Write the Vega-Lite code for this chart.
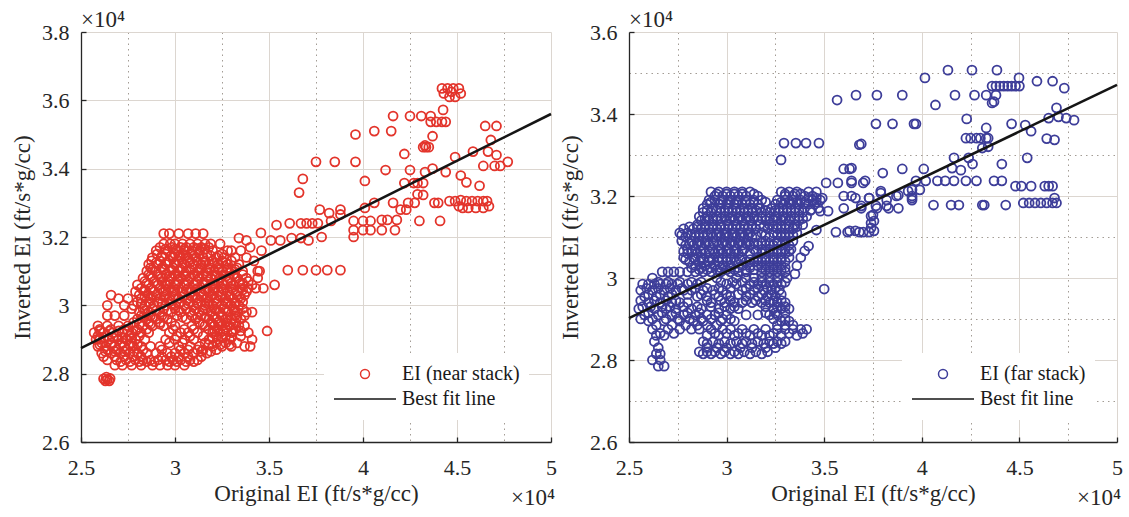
{
"$schema": "https://vega.github.io/schema/vega-lite/v6.json",
"background": "white",
"padding": {"left": 11, "top": 9, "right": 6, "bottom": 4},
"autosize": {"type": "pad"},
"bounds": "flush",
"spacing": 78,
"datasets": {
"near": [
{"original":2.62,"inverted":2.785},{"original":2.63,"inverted":2.779},{"original":2.64,"inverted":2.783},{"original":2.65,"inverted":2.779},{"original":2.635,"inverted":2.79},{"original":2.655,"inverted":2.786},
{"original":2.94,"inverted":3.21},{"original":2.97,"inverted":3.21},{"original":3.02,"inverted":3.21},{"original":3.07,"inverted":3.21},{"original":3.11,"inverted":3.21},{"original":3.15,"inverted":3.21},
{"original":2.94,"inverted":3.18},{"original":2.975,"inverted":3.18},{"original":3.0,"inverted":3.18},{"original":3.04,"inverted":3.18},{"original":3.08,"inverted":3.18},{"original":3.12,"inverted":3.18},{"original":3.16,"inverted":3.18},{"original":3.19,"inverted":3.18},{"original":3.24,"inverted":3.18},
{"original":2.9,"inverted":3.16},{"original":2.96,"inverted":3.16},{"original":3.01,"inverted":3.16},{"original":3.05,"inverted":3.16},{"original":3.09,"inverted":3.16},{"original":3.13,"inverted":3.16},{"original":3.2,"inverted":3.16},{"original":3.28,"inverted":3.16},{"original":3.3,"inverted":3.16},{"original":3.35,"inverted":3.16},
{"original":2.88,"inverted":3.14},{"original":2.93,"inverted":3.14},{"original":2.99,"inverted":3.14},{"original":3.03,"inverted":3.14},{"original":3.07,"inverted":3.14},{"original":3.11,"inverted":3.14},{"original":3.15,"inverted":3.14},{"original":3.22,"inverted":3.14},{"original":3.26,"inverted":3.14},{"original":3.32,"inverted":3.14},{"original":3.38,"inverted":3.14},
{"original":2.86,"inverted":3.12},{"original":2.91,"inverted":3.12},{"original":2.95,"inverted":3.12},{"original":3.0,"inverted":3.12},{"original":3.05,"inverted":3.12},{"original":3.1,"inverted":3.12},{"original":3.14,"inverted":3.12},{"original":3.18,"inverted":3.12},{"original":3.23,"inverted":3.12},{"original":3.28,"inverted":3.12},{"original":3.34,"inverted":3.12},
{"original":2.85,"inverted":3.1},{"original":2.9,"inverted":3.1},{"original":2.97,"inverted":3.1},{"original":3.02,"inverted":3.1},{"original":3.06,"inverted":3.1},{"original":3.12,"inverted":3.1},{"original":3.17,"inverted":3.1},{"original":3.21,"inverted":3.1},{"original":3.25,"inverted":3.1},{"original":3.3,"inverted":3.1},{"original":3.36,"inverted":3.1},{"original":3.44,"inverted":3.1},
{"original":2.83,"inverted":3.08},{"original":2.88,"inverted":3.08},{"original":2.93,"inverted":3.08},{"original":2.98,"inverted":3.08},{"original":3.03,"inverted":3.08},{"original":3.08,"inverted":3.08},{"original":3.13,"inverted":3.08},{"original":3.19,"inverted":3.08},{"original":3.24,"inverted":3.08},{"original":3.29,"inverted":3.08},{"original":3.33,"inverted":3.08},{"original":3.38,"inverted":3.08},
{"original":2.8,"inverted":3.06},{"original":2.86,"inverted":3.06},{"original":2.91,"inverted":3.06},{"original":2.95,"inverted":3.06},{"original":3.0,"inverted":3.06},{"original":3.05,"inverted":3.06},{"original":3.1,"inverted":3.06},{"original":3.15,"inverted":3.06},{"original":3.2,"inverted":3.06},{"original":3.26,"inverted":3.06},{"original":3.31,"inverted":3.06},{"original":3.36,"inverted":3.06},{"original":3.41,"inverted":3.06},
{"original":2.79,"inverted":3.04},{"original":2.84,"inverted":3.04},{"original":2.89,"inverted":3.04},{"original":2.94,"inverted":3.04},{"original":2.99,"inverted":3.04},{"original":3.04,"inverted":3.04},{"original":3.09,"inverted":3.04},{"original":3.14,"inverted":3.04},{"original":3.18,"inverted":3.04},{"original":3.23,"inverted":3.04},{"original":3.28,"inverted":3.04},{"original":3.33,"inverted":3.04},{"original":3.38,"inverted":3.04},
{"original":2.82,"inverted":3.02},{"original":2.87,"inverted":3.02},{"original":2.92,"inverted":3.02},{"original":2.97,"inverted":3.02},{"original":3.02,"inverted":3.02},{"original":3.07,"inverted":3.02},{"original":3.12,"inverted":3.02},{"original":3.17,"inverted":3.02},{"original":3.22,"inverted":3.02},{"original":3.27,"inverted":3.02},{"original":3.31,"inverted":3.02},{"original":3.35,"inverted":3.02},
{"original":2.78,"inverted":3.0},{"original":2.84,"inverted":3.0},{"original":2.89,"inverted":3.0},{"original":2.95,"inverted":3.0},{"original":3.0,"inverted":3.0},{"original":3.05,"inverted":3.0},{"original":3.1,"inverted":3.0},{"original":3.16,"inverted":3.0},{"original":3.2,"inverted":3.0},{"original":3.25,"inverted":3.0},{"original":3.3,"inverted":3.0},{"original":3.34,"inverted":3.0},
{"original":2.81,"inverted":2.98},{"original":2.86,"inverted":2.98},{"original":2.92,"inverted":2.98},{"original":2.98,"inverted":2.98},{"original":3.03,"inverted":2.98},{"original":3.08,"inverted":2.98},{"original":3.13,"inverted":2.98},{"original":3.19,"inverted":2.98},{"original":3.24,"inverted":2.98},{"original":3.28,"inverted":2.98},{"original":3.33,"inverted":2.98},{"original":3.38,"inverted":2.98},{"original":3.41,"inverted":2.98},
{"original":2.8,"inverted":2.96},{"original":2.85,"inverted":2.96},{"original":2.9,"inverted":2.96},{"original":2.96,"inverted":2.96},{"original":3.06,"inverted":2.96},{"original":3.11,"inverted":2.96},{"original":3.18,"inverted":2.96},{"original":3.22,"inverted":2.96},{"original":3.27,"inverted":2.96},{"original":3.3,"inverted":2.96},{"original":3.35,"inverted":2.96},
{"original":2.59,"inverted":2.94},{"original":2.64,"inverted":2.94},{"original":2.7,"inverted":2.94},{"original":2.75,"inverted":2.94},{"original":2.83,"inverted":2.94},{"original":2.88,"inverted":2.94},{"original":2.94,"inverted":2.94},{"original":3.0,"inverted":2.94},{"original":3.09,"inverted":2.94},{"original":3.16,"inverted":2.94},{"original":3.21,"inverted":2.94},{"original":3.25,"inverted":2.94},{"original":3.29,"inverted":2.94},{"original":3.34,"inverted":2.94},{"original":3.37,"inverted":2.94},
{"original":2.57,"inverted":2.92},{"original":2.62,"inverted":2.92},{"original":2.67,"inverted":2.92},{"original":2.72,"inverted":2.92},{"original":2.77,"inverted":2.92},{"original":2.82,"inverted":2.92},{"original":2.86,"inverted":2.92},{"original":2.97,"inverted":2.92},{"original":3.03,"inverted":2.92},{"original":3.07,"inverted":2.92},{"original":3.12,"inverted":2.92},{"original":3.2,"inverted":2.92},{"original":3.24,"inverted":2.92},{"original":3.3,"inverted":2.92},{"original":3.39,"inverted":2.92},
{"original":2.58,"inverted":2.9},{"original":2.6,"inverted":2.9},{"original":2.65,"inverted":2.9},{"original":2.7,"inverted":2.9},{"original":2.74,"inverted":2.9},{"original":2.79,"inverted":2.9},{"original":2.84,"inverted":2.9},{"original":2.95,"inverted":2.9},{"original":3.0,"inverted":2.9},{"original":3.05,"inverted":2.9},{"original":3.1,"inverted":2.9},{"original":3.18,"inverted":2.9},{"original":3.23,"inverted":2.9},{"original":3.29,"inverted":2.9},{"original":3.41,"inverted":2.9},
{"original":2.59,"inverted":2.88},{"original":2.63,"inverted":2.88},{"original":2.68,"inverted":2.88},{"original":2.73,"inverted":2.88},{"original":2.78,"inverted":2.88},{"original":2.82,"inverted":2.88},{"original":2.87,"inverted":2.88},{"original":2.92,"inverted":2.88},{"original":3.02,"inverted":2.88},{"original":3.08,"inverted":2.88},{"original":3.13,"inverted":2.88},{"original":3.2,"inverted":2.88},{"original":3.25,"inverted":2.88},{"original":3.3,"inverted":2.88},{"original":3.37,"inverted":2.88},{"original":3.4,"inverted":2.88},
{"original":2.61,"inverted":2.86},{"original":2.66,"inverted":2.86},{"original":2.71,"inverted":2.86},{"original":2.76,"inverted":2.86},{"original":2.8,"inverted":2.86},{"original":2.85,"inverted":2.86},{"original":2.9,"inverted":2.86},{"original":2.96,"inverted":2.86},{"original":3.0,"inverted":2.86},{"original":3.05,"inverted":2.86},{"original":3.1,"inverted":2.86},{"original":3.17,"inverted":2.86},
{"original":2.64,"inverted":2.84},{"original":2.69,"inverted":2.84},{"original":2.74,"inverted":2.84},{"original":2.79,"inverted":2.84},{"original":2.83,"inverted":2.84},{"original":2.87,"inverted":2.84},{"original":2.91,"inverted":2.84},{"original":2.95,"inverted":2.84},{"original":2.99,"inverted":2.84},{"original":3.03,"inverted":2.84},{"original":3.08,"inverted":2.84},{"original":3.12,"inverted":2.84},
{"original":2.68,"inverted":2.825},{"original":2.72,"inverted":2.825},{"original":2.77,"inverted":2.825},{"original":2.82,"inverted":2.825},{"original":2.88,"inverted":2.825},{"original":2.92,"inverted":2.825},{"original":2.96,"inverted":2.825},{"original":3.0,"inverted":2.825},{"original":3.05,"inverted":2.825},
{"original":2.92,"inverted":3.17},{"original":2.985,"inverted":3.17},{"original":3.03,"inverted":3.17},{"original":3.06,"inverted":3.17},{"original":3.1,"inverted":3.17},{"original":3.14,"inverted":3.17},{"original":3.18,"inverted":3.17},
{"original":2.905,"inverted":3.15},{"original":2.95,"inverted":3.15},{"original":3.0,"inverted":3.15},{"original":3.045,"inverted":3.15},{"original":3.09,"inverted":3.15},{"original":3.13,"inverted":3.15},{"original":3.17,"inverted":3.15},{"original":3.25,"inverted":3.15},
{"original":2.875,"inverted":3.13},{"original":2.92,"inverted":3.13},{"original":2.97,"inverted":3.13},{"original":3.02,"inverted":3.13},{"original":3.07,"inverted":3.13},{"original":3.12,"inverted":3.13},{"original":3.16,"inverted":3.13},{"original":3.2,"inverted":3.13},{"original":3.25,"inverted":3.13},{"original":3.3,"inverted":3.13},
{"original":2.87,"inverted":3.11},{"original":2.93,"inverted":3.11},{"original":2.99,"inverted":3.11},{"original":3.04,"inverted":3.11},{"original":3.09,"inverted":3.11},{"original":3.14,"inverted":3.11},{"original":3.19,"inverted":3.11},{"original":3.23,"inverted":3.11},{"original":3.28,"inverted":3.11},{"original":3.33,"inverted":3.11},
{"original":2.86,"inverted":3.09},{"original":2.91,"inverted":3.09},{"original":2.95,"inverted":3.09},{"original":3.0,"inverted":3.09},{"original":3.05,"inverted":3.09},{"original":3.1,"inverted":3.09},{"original":3.15,"inverted":3.09},{"original":3.21,"inverted":3.09},{"original":3.26,"inverted":3.09},{"original":3.31,"inverted":3.09},{"original":3.36,"inverted":3.09},
{"original":2.84,"inverted":3.07},{"original":2.89,"inverted":3.07},{"original":2.93,"inverted":3.07},{"original":2.97,"inverted":3.07},{"original":3.02,"inverted":3.07},{"original":3.07,"inverted":3.07},{"original":3.12,"inverted":3.07},{"original":3.17,"inverted":3.07},{"original":3.23,"inverted":3.07},{"original":3.28,"inverted":3.07},{"original":3.34,"inverted":3.07},{"original":3.39,"inverted":3.07},
{"original":2.82,"inverted":3.05},{"original":2.87,"inverted":3.05},{"original":2.92,"inverted":3.05},{"original":2.97,"inverted":3.05},{"original":3.02,"inverted":3.05},{"original":3.07,"inverted":3.05},{"original":3.12,"inverted":3.05},{"original":3.17,"inverted":3.05},{"original":3.21,"inverted":3.05},{"original":3.25,"inverted":3.05},{"original":3.3,"inverted":3.05},{"original":3.35,"inverted":3.05},{"original":3.39,"inverted":3.05},
{"original":2.81,"inverted":3.03},{"original":2.86,"inverted":3.03},{"original":2.9,"inverted":3.03},{"original":2.95,"inverted":3.03},{"original":3.0,"inverted":3.03},{"original":3.05,"inverted":3.03},{"original":3.1,"inverted":3.03},{"original":3.15,"inverted":3.03},{"original":3.2,"inverted":3.03},{"original":3.25,"inverted":3.03},{"original":3.29,"inverted":3.03},{"original":3.33,"inverted":3.03},{"original":3.37,"inverted":3.03},
{"original":2.8,"inverted":3.01},{"original":2.86,"inverted":3.01},{"original":2.91,"inverted":3.01},{"original":2.97,"inverted":3.01},{"original":3.03,"inverted":3.01},{"original":3.08,"inverted":3.01},{"original":3.14,"inverted":3.01},{"original":3.18,"inverted":3.01},{"original":3.22,"inverted":3.01},{"original":3.27,"inverted":3.01},{"original":3.32,"inverted":3.01},{"original":3.36,"inverted":3.01},
{"original":2.83,"inverted":2.99},{"original":2.88,"inverted":2.99},{"original":2.94,"inverted":2.99},{"original":3.0,"inverted":2.99},{"original":3.06,"inverted":2.99},{"original":3.11,"inverted":2.99},{"original":3.16,"inverted":2.99},{"original":3.21,"inverted":2.99},{"original":3.26,"inverted":2.99},{"original":3.31,"inverted":2.99},{"original":3.36,"inverted":2.99},
{"original":2.82,"inverted":2.97},{"original":2.87,"inverted":2.97},{"original":2.93,"inverted":2.97},{"original":3.01,"inverted":2.97},{"original":3.09,"inverted":2.97},{"original":3.14,"inverted":2.97},{"original":3.2,"inverted":2.97},{"original":3.25,"inverted":2.97},{"original":3.32,"inverted":2.97},{"original":3.37,"inverted":2.97},
{"original":2.78,"inverted":2.95},{"original":2.86,"inverted":2.95},{"original":2.92,"inverted":2.95},{"original":2.98,"inverted":2.95},{"original":3.13,"inverted":2.95},{"original":3.19,"inverted":2.95},{"original":3.23,"inverted":2.95},{"original":3.27,"inverted":2.95},{"original":3.32,"inverted":2.95},
{"original":2.6,"inverted":2.93},{"original":2.66,"inverted":2.93},{"original":2.73,"inverted":2.93},{"original":2.8,"inverted":2.93},{"original":2.85,"inverted":2.93},{"original":2.99,"inverted":2.93},{"original":3.05,"inverted":2.93},{"original":3.1,"inverted":2.93},{"original":3.18,"inverted":2.93},{"original":3.23,"inverted":2.93},{"original":3.27,"inverted":2.93},{"original":3.32,"inverted":2.93},
{"original":2.59,"inverted":2.91},{"original":2.64,"inverted":2.91},{"original":2.69,"inverted":2.91},{"original":2.76,"inverted":2.91},{"original":2.81,"inverted":2.91},{"original":3.01,"inverted":2.91},{"original":3.08,"inverted":2.91},{"original":3.15,"inverted":2.91},{"original":3.22,"inverted":2.91},{"original":3.27,"inverted":2.91},{"original":3.35,"inverted":2.91},
{"original":2.61,"inverted":2.89},{"original":2.66,"inverted":2.89},{"original":2.72,"inverted":2.89},{"original":2.77,"inverted":2.89},{"original":2.97,"inverted":2.89},{"original":3.04,"inverted":2.89},{"original":3.16,"inverted":2.89},{"original":3.22,"inverted":2.89},{"original":3.27,"inverted":2.89},{"original":3.33,"inverted":2.89},
{"original":2.64,"inverted":2.87},{"original":2.69,"inverted":2.87},{"original":2.74,"inverted":2.87},{"original":2.83,"inverted":2.87},{"original":2.93,"inverted":2.87},{"original":3.03,"inverted":2.87},{"original":3.07,"inverted":2.87},{"original":3.12,"inverted":2.87},{"original":3.15,"inverted":2.87},{"original":3.22,"inverted":2.87},
{"original":2.62,"inverted":2.85},{"original":2.68,"inverted":2.85},{"original":2.73,"inverted":2.85},{"original":2.78,"inverted":2.85},{"original":2.82,"inverted":2.85},{"original":2.93,"inverted":2.85},{"original":2.98,"inverted":2.85},{"original":3.02,"inverted":2.85},{"original":3.07,"inverted":2.85},{"original":3.14,"inverted":2.85},
{"original":2.71,"inverted":2.835},{"original":2.76,"inverted":2.835},{"original":2.81,"inverted":2.835},{"original":2.85,"inverted":2.835},{"original":2.89,"inverted":2.835},{"original":2.97,"inverted":2.835},{"original":3.01,"inverted":2.835},{"original":3.06,"inverted":2.835},{"original":3.1,"inverted":2.835},
{"original":2.95,"inverted":3.165},{"original":3.0,"inverted":3.165},{"original":3.05,"inverted":3.165},{"original":3.12,"inverted":3.165},{"original":3.16,"inverted":3.165},
{"original":2.93,"inverted":3.145},{"original":2.98,"inverted":3.145},{"original":3.02,"inverted":3.145},{"original":3.06,"inverted":3.145},{"original":3.1,"inverted":3.145},{"original":3.19,"inverted":3.145},{"original":3.23,"inverted":3.145},
{"original":2.9,"inverted":3.125},{"original":2.96,"inverted":3.125},{"original":3.0,"inverted":3.125},{"original":3.04,"inverted":3.125},{"original":3.08,"inverted":3.125},{"original":3.15,"inverted":3.125},{"original":3.21,"inverted":3.125},{"original":3.27,"inverted":3.125},
{"original":2.88,"inverted":3.105},{"original":2.94,"inverted":3.105},{"original":2.98,"inverted":3.105},{"original":3.03,"inverted":3.105},{"original":3.08,"inverted":3.105},{"original":3.13,"inverted":3.105},{"original":3.18,"inverted":3.105},{"original":3.23,"inverted":3.105},{"original":3.28,"inverted":3.105},{"original":3.32,"inverted":3.105},
{"original":2.87,"inverted":3.085},{"original":2.92,"inverted":3.085},{"original":2.97,"inverted":3.085},{"original":3.02,"inverted":3.085},{"original":3.06,"inverted":3.085},{"original":3.12,"inverted":3.085},{"original":3.17,"inverted":3.085},{"original":3.22,"inverted":3.085},{"original":3.27,"inverted":3.085},{"original":3.32,"inverted":3.085},
{"original":2.85,"inverted":3.065},{"original":2.9,"inverted":3.065},{"original":2.96,"inverted":3.065},{"original":3.01,"inverted":3.065},{"original":3.06,"inverted":3.065},{"original":3.11,"inverted":3.065},{"original":3.16,"inverted":3.065},{"original":3.21,"inverted":3.065},{"original":3.25,"inverted":3.065},{"original":3.3,"inverted":3.065},{"original":3.36,"inverted":3.065},
{"original":2.84,"inverted":3.045},{"original":2.88,"inverted":3.045},{"original":2.95,"inverted":3.045},{"original":3.0,"inverted":3.045},{"original":3.06,"inverted":3.045},{"original":3.11,"inverted":3.045},{"original":3.16,"inverted":3.045},{"original":3.2,"inverted":3.045},{"original":3.26,"inverted":3.045},{"original":3.31,"inverted":3.045},{"original":3.36,"inverted":3.045},
{"original":2.84,"inverted":3.025},{"original":2.88,"inverted":3.025},{"original":2.94,"inverted":3.025},{"original":2.99,"inverted":3.025},{"original":3.04,"inverted":3.025},{"original":3.09,"inverted":3.025},{"original":3.14,"inverted":3.025},{"original":3.19,"inverted":3.025},{"original":3.24,"inverted":3.025},{"original":3.29,"inverted":3.025},{"original":3.34,"inverted":3.025},
{"original":2.82,"inverted":3.005},{"original":2.87,"inverted":3.005},{"original":2.93,"inverted":3.005},{"original":2.98,"inverted":3.005},{"original":3.02,"inverted":3.005},{"original":3.07,"inverted":3.005},{"original":3.12,"inverted":3.005},{"original":3.17,"inverted":3.005},{"original":3.22,"inverted":3.005},{"original":3.28,"inverted":3.005},{"original":3.32,"inverted":3.005},
{"original":2.84,"inverted":2.985},{"original":2.9,"inverted":2.985},{"original":2.96,"inverted":2.985},{"original":3.02,"inverted":2.985},{"original":3.1,"inverted":2.985},{"original":3.15,"inverted":2.985},{"original":3.22,"inverted":2.985},{"original":3.27,"inverted":2.985},{"original":3.32,"inverted":2.985},
{"original":2.83,"inverted":2.965},{"original":2.88,"inverted":2.965},{"original":2.94,"inverted":2.965},{"original":3.04,"inverted":2.965},{"original":3.12,"inverted":2.965},{"original":3.16,"inverted":2.965},{"original":3.21,"inverted":2.965},{"original":3.28,"inverted":2.965},{"original":3.33,"inverted":2.965},
{"original":2.81,"inverted":2.945},{"original":2.87,"inverted":2.945},{"original":2.92,"inverted":2.945},{"original":3.15,"inverted":2.945},{"original":3.2,"inverted":2.945},{"original":3.24,"inverted":2.945},{"original":3.28,"inverted":2.945},{"original":3.31,"inverted":2.945},
{"original":2.6,"inverted":2.925},{"original":2.65,"inverted":2.925},{"original":2.7,"inverted":2.925},{"original":2.75,"inverted":2.925},{"original":2.79,"inverted":2.925},{"original":3.21,"inverted":2.925},{"original":3.26,"inverted":2.925},{"original":3.31,"inverted":2.925},{"original":3.35,"inverted":2.925},
{"original":2.62,"inverted":2.905},{"original":2.67,"inverted":2.905},{"original":2.72,"inverted":2.905},{"original":2.77,"inverted":2.905},{"original":3.2,"inverted":2.905},{"original":3.25,"inverted":2.905},{"original":3.3,"inverted":2.905},
{"original":2.6,"inverted":2.885},{"original":2.66,"inverted":2.885},{"original":2.71,"inverted":2.885},{"original":2.76,"inverted":2.885},{"original":2.8,"inverted":2.885},{"original":3.18,"inverted":2.885},{"original":3.24,"inverted":2.885},{"original":3.29,"inverted":2.885},
{"original":2.63,"inverted":2.865},{"original":2.68,"inverted":2.865},{"original":2.73,"inverted":2.865},{"original":2.78,"inverted":2.865},{"original":3.14,"inverted":2.865},{"original":3.19,"inverted":2.865},
{"original":2.66,"inverted":3.03},{"original":2.7,"inverted":3.02},{"original":2.75,"inverted":3.02},{"original":2.64,"inverted":3.0},{"original":2.73,"inverted":3.0},{"original":2.64,"inverted":2.97},{"original":2.68,"inverted":2.97},{"original":2.73,"inverted":2.97},{"original":2.77,"inverted":2.99},
{"original":3.43,"inverted":3.05},{"original":3.47,"inverted":3.05},{"original":3.53,"inverted":3.06},{"original":3.49,"inverted":2.925},{"original":3.42,"inverted":3.13},{"original":3.45,"inverted":3.1},{"original":3.44,"inverted":3.08},{"original":3.4,"inverted":3.17},{"original":3.38,"inverted":3.19},{"original":3.46,"inverted":3.16},{"original":3.34,"inverted":3.197},{"original":3.457,"inverted":3.212},
{"original":3.51,"inverted":3.19},{"original":3.56,"inverted":3.19},{"original":3.62,"inverted":3.197},{"original":3.67,"inverted":3.197},{"original":3.54,"inverted":3.235},{"original":3.61,"inverted":3.24},{"original":3.67,"inverted":3.24},{"original":3.7,"inverted":3.24},{"original":3.73,"inverted":3.24},{"original":3.76,"inverted":3.24},
{"original":3.6,"inverted":3.103},{"original":3.68,"inverted":3.103},{"original":3.75,"inverted":3.103},{"original":3.81,"inverted":3.103},{"original":3.88,"inverted":3.103},
{"original":4.42,"inverted":3.635},{"original":4.45,"inverted":3.635},{"original":4.48,"inverted":3.635},{"original":4.51,"inverted":3.635},{"original":4.43,"inverted":3.62},{"original":4.46,"inverted":3.61},{"original":4.49,"inverted":3.61},{"original":4.52,"inverted":3.62},{"original":4.47,"inverted":3.625},
{"original":4.426,"inverted":3.572},{"original":4.16,"inverted":3.554},{"original":4.25,"inverted":3.554},{"original":4.31,"inverted":3.554},{"original":4.36,"inverted":3.554},
{"original":4.36,"inverted":3.537},{"original":4.39,"inverted":3.537},{"original":4.42,"inverted":3.537},{"original":4.44,"inverted":3.537},
{"original":3.96,"inverted":3.5},{"original":4.06,"inverted":3.51},{"original":4.15,"inverted":3.51},{"original":4.65,"inverted":3.525},{"original":4.71,"inverted":3.525},{"original":4.37,"inverted":3.495},
{"original":4.32,"inverted":3.463},{"original":4.335,"inverted":3.463},{"original":4.35,"inverted":3.463},{"original":4.33,"inverted":3.468},{"original":4.68,"inverted":3.484},{"original":4.22,"inverted":3.443},{"original":4.49,"inverted":3.434},
{"original":4.585,"inverted":3.45},{"original":4.665,"inverted":3.45},{"original":4.71,"inverted":3.44},
{"original":3.75,"inverted":3.42},{"original":3.85,"inverted":3.42},{"original":3.96,"inverted":3.42},
{"original":4.12,"inverted":3.396},{"original":4.25,"inverted":3.396},{"original":4.33,"inverted":3.39},{"original":4.37,"inverted":3.4},{"original":4.44,"inverted":3.39},
{"original":4.64,"inverted":3.408},{"original":4.7,"inverted":3.408},{"original":4.73,"inverted":3.408},{"original":4.77,"inverted":3.42},
{"original":4.52,"inverted":3.38},{"original":4.55,"inverted":3.36},{"original":4.62,"inverted":3.35},{"original":3.68,"inverted":3.37},{"original":4.01,"inverted":3.364},
{"original":4.22,"inverted":3.358},{"original":4.27,"inverted":3.358},{"original":4.29,"inverted":3.358},{"original":4.32,"inverted":3.358},{"original":4.32,"inverted":3.323},{"original":4.29,"inverted":3.325},{"original":3.66,"inverted":3.33},
{"original":4.16,"inverted":3.3},{"original":4.24,"inverted":3.3},{"original":4.275,"inverted":3.3},{"original":4.38,"inverted":3.3},{"original":4.4,"inverted":3.3},
{"original":4.46,"inverted":3.305},{"original":4.49,"inverted":3.305},{"original":4.52,"inverted":3.308},{"original":4.55,"inverted":3.305},{"original":4.58,"inverted":3.305},{"original":4.61,"inverted":3.305},{"original":4.64,"inverted":3.305},{"original":4.66,"inverted":3.305},
{"original":4.67,"inverted":3.29},{"original":4.64,"inverted":3.285},{"original":4.6,"inverted":3.285},{"original":4.56,"inverted":3.285},{"original":4.53,"inverted":3.285},{"original":4.51,"inverted":3.29},
{"original":4.3,"inverted":3.247},{"original":4.41,"inverted":3.247},
{"original":3.77,"inverted":3.28},{"original":3.82,"inverted":3.27},{"original":3.88,"inverted":3.28},{"original":3.83,"inverted":3.247},{"original":3.88,"inverted":3.266},
{"original":3.95,"inverted":3.247},{"original":3.95,"inverted":3.22},{"original":3.95,"inverted":3.2},{"original":4.0,"inverted":3.247},{"original":4.0,"inverted":3.22},{"original":4.04,"inverted":3.247},{"original":4.04,"inverted":3.22},{"original":4.1,"inverted":3.25},{"original":4.1,"inverted":3.22},{"original":4.13,"inverted":3.25},{"original":4.17,"inverted":3.22},{"original":4.18,"inverted":3.25},
{"original":4.06,"inverted":3.3},{"original":4.01,"inverted":3.285},{"original":4.2,"inverted":3.28},{"original":4.23,"inverted":3.28},{"original":3.78,"inverted":3.2},{"original":3.71,"inverted":3.19}
],
"far": [
{"original":2.92,"inverted":3.21},{"original":2.96,"inverted":3.21},{"original":3.0,"inverted":3.21},{"original":3.04,"inverted":3.21},{"original":3.08,"inverted":3.21},{"original":3.12,"inverted":3.21},{"original":3.28,"inverted":3.21},{"original":3.32,"inverted":3.21},{"original":3.36,"inverted":3.21},{"original":3.42,"inverted":3.21},{"original":3.46,"inverted":3.21},
{"original":2.91,"inverted":3.19},{"original":2.94,"inverted":3.19},{"original":2.98,"inverted":3.19},{"original":3.02,"inverted":3.19},{"original":3.06,"inverted":3.19},{"original":3.1,"inverted":3.19},{"original":3.14,"inverted":3.19},{"original":3.18,"inverted":3.19},{"original":3.26,"inverted":3.19},{"original":3.3,"inverted":3.19},{"original":3.34,"inverted":3.19},{"original":3.38,"inverted":3.19},{"original":3.44,"inverted":3.19},{"original":3.48,"inverted":3.19},
{"original":2.88,"inverted":3.17},{"original":2.93,"inverted":3.17},{"original":2.97,"inverted":3.17},{"original":3.01,"inverted":3.17},{"original":3.05,"inverted":3.17},{"original":3.09,"inverted":3.17},{"original":3.13,"inverted":3.17},{"original":3.17,"inverted":3.17},{"original":3.23,"inverted":3.17},{"original":3.27,"inverted":3.17},{"original":3.31,"inverted":3.17},{"original":3.35,"inverted":3.17},{"original":3.4,"inverted":3.17},{"original":3.47,"inverted":3.17},
{"original":2.86,"inverted":3.15},{"original":2.9,"inverted":3.15},{"original":2.95,"inverted":3.15},{"original":2.99,"inverted":3.15},{"original":3.03,"inverted":3.15},{"original":3.07,"inverted":3.15},{"original":3.11,"inverted":3.15},{"original":3.14,"inverted":3.15},{"original":3.2,"inverted":3.15},{"original":3.25,"inverted":3.15},{"original":3.29,"inverted":3.15},{"original":3.33,"inverted":3.15},{"original":3.37,"inverted":3.15},{"original":3.41,"inverted":3.15},
{"original":2.85,"inverted":3.13},{"original":2.89,"inverted":3.13},{"original":2.93,"inverted":3.13},{"original":2.97,"inverted":3.13},{"original":3.01,"inverted":3.13},{"original":3.05,"inverted":3.13},{"original":3.09,"inverted":3.13},{"original":3.13,"inverted":3.13},{"original":3.17,"inverted":3.13},{"original":3.22,"inverted":3.13},{"original":3.26,"inverted":3.13},{"original":3.3,"inverted":3.13},{"original":3.35,"inverted":3.13},{"original":3.39,"inverted":3.13},
{"original":2.76,"inverted":3.11},{"original":2.8,"inverted":3.11},{"original":2.84,"inverted":3.11},{"original":2.88,"inverted":3.11},{"original":2.92,"inverted":3.11},{"original":2.96,"inverted":3.11},{"original":3.0,"inverted":3.11},{"original":3.04,"inverted":3.11},{"original":3.08,"inverted":3.11},{"original":3.12,"inverted":3.11},{"original":3.18,"inverted":3.11},{"original":3.24,"inverted":3.11},{"original":3.28,"inverted":3.11},{"original":3.32,"inverted":3.11},{"original":3.36,"inverted":3.11},
{"original":2.77,"inverted":3.09},{"original":2.82,"inverted":3.09},{"original":2.86,"inverted":3.09},{"original":2.9,"inverted":3.09},{"original":2.95,"inverted":3.09},{"original":2.99,"inverted":3.09},{"original":3.03,"inverted":3.09},{"original":3.07,"inverted":3.09},{"original":3.11,"inverted":3.09},{"original":3.2,"inverted":3.09},{"original":3.26,"inverted":3.09},{"original":3.3,"inverted":3.09},{"original":3.34,"inverted":3.09},
{"original":2.8,"inverted":3.07},{"original":2.84,"inverted":3.07},{"original":2.88,"inverted":3.07},{"original":2.93,"inverted":3.07},{"original":2.97,"inverted":3.07},{"original":3.01,"inverted":3.07},{"original":3.05,"inverted":3.07},{"original":3.09,"inverted":3.07},{"original":3.14,"inverted":3.07},{"original":3.18,"inverted":3.07},{"original":3.22,"inverted":3.07},{"original":3.26,"inverted":3.07},{"original":3.3,"inverted":3.07},{"original":3.33,"inverted":3.07},
{"original":2.78,"inverted":3.05},{"original":2.83,"inverted":3.05},{"original":2.87,"inverted":3.05},{"original":2.91,"inverted":3.05},{"original":2.96,"inverted":3.05},{"original":3.0,"inverted":3.05},{"original":3.04,"inverted":3.05},{"original":3.08,"inverted":3.05},{"original":3.16,"inverted":3.05},{"original":3.2,"inverted":3.05},{"original":3.24,"inverted":3.05},{"original":3.28,"inverted":3.05},{"original":3.32,"inverted":3.05},
{"original":2.84,"inverted":3.03},{"original":2.89,"inverted":3.03},{"original":2.94,"inverted":3.03},{"original":2.98,"inverted":3.03},{"original":3.02,"inverted":3.03},{"original":3.08,"inverted":3.03},{"original":3.12,"inverted":3.03},{"original":3.16,"inverted":3.03},{"original":3.2,"inverted":3.03},{"original":3.24,"inverted":3.03},{"original":3.28,"inverted":3.03},
{"original":2.67,"inverted":3.015},{"original":2.7,"inverted":3.015},{"original":2.73,"inverted":3.015},{"original":2.76,"inverted":3.015},{"original":2.8,"inverted":3.015},{"original":2.84,"inverted":3.015},{"original":2.88,"inverted":3.015},{"original":2.92,"inverted":3.015},{"original":2.97,"inverted":3.015},{"original":3.02,"inverted":3.015},{"original":3.06,"inverted":3.015},{"original":3.1,"inverted":3.015},{"original":3.18,"inverted":3.015},{"original":3.22,"inverted":3.015},{"original":3.26,"inverted":3.015},{"original":3.3,"inverted":3.015},
{"original":2.62,"inverted":3.0},{"original":2.95,"inverted":3.0},{"original":3.05,"inverted":3.0},{"original":3.1,"inverted":3.0},{"original":3.14,"inverted":3.0},{"original":3.18,"inverted":3.0},{"original":3.22,"inverted":3.0},{"original":3.26,"inverted":3.0},{"original":3.31,"inverted":3.0},
{"original":2.57,"inverted":2.985},{"original":2.6,"inverted":2.985},{"original":2.63,"inverted":2.985},{"original":2.66,"inverted":2.985},{"original":2.69,"inverted":2.985},{"original":2.72,"inverted":2.985},{"original":2.75,"inverted":2.985},{"original":2.8,"inverted":2.985},{"original":2.85,"inverted":2.985},{"original":3.0,"inverted":2.985},{"original":3.05,"inverted":2.985},{"original":3.12,"inverted":2.985},{"original":3.16,"inverted":2.985},{"original":3.2,"inverted":2.985},{"original":3.24,"inverted":2.985},{"original":3.28,"inverted":2.985},
{"original":2.56,"inverted":2.97},{"original":2.62,"inverted":2.97},{"original":2.68,"inverted":2.97},{"original":2.74,"inverted":2.97},{"original":2.78,"inverted":2.97},{"original":2.82,"inverted":2.97},{"original":2.88,"inverted":2.97},{"original":2.93,"inverted":2.97},{"original":2.98,"inverted":2.97},{"original":3.08,"inverted":2.97},{"original":3.14,"inverted":2.97},{"original":3.19,"inverted":2.97},{"original":3.23,"inverted":2.97},{"original":3.27,"inverted":2.97},{"original":3.5,"inverted":2.973},
{"original":2.58,"inverted":2.955},{"original":2.64,"inverted":2.955},{"original":2.7,"inverted":2.955},{"original":2.85,"inverted":2.955},{"original":2.9,"inverted":2.955},{"original":2.96,"inverted":2.955},{"original":3.02,"inverted":2.955},{"original":3.1,"inverted":2.955},{"original":3.16,"inverted":2.955},{"original":3.21,"inverted":2.955},{"original":3.25,"inverted":2.955},
{"original":2.6,"inverted":2.94},{"original":2.66,"inverted":2.94},{"original":2.72,"inverted":2.94},{"original":2.76,"inverted":2.94},{"original":2.8,"inverted":2.94},{"original":2.92,"inverted":2.94},{"original":2.99,"inverted":2.94},{"original":3.04,"inverted":2.94},{"original":3.08,"inverted":2.94},{"original":3.13,"inverted":2.94},{"original":3.18,"inverted":2.94},{"original":3.22,"inverted":2.94},{"original":3.26,"inverted":2.94},{"original":3.3,"inverted":2.94},
{"original":2.55,"inverted":2.925},{"original":2.63,"inverted":2.925},{"original":2.69,"inverted":2.925},{"original":2.74,"inverted":2.925},{"original":2.82,"inverted":2.925},{"original":2.87,"inverted":2.925},{"original":2.96,"inverted":2.925},{"original":3.02,"inverted":2.925},{"original":3.06,"inverted":2.925},{"original":3.24,"inverted":2.925},{"original":3.28,"inverted":2.925},{"original":3.32,"inverted":2.925},
{"original":2.58,"inverted":2.91},{"original":2.65,"inverted":2.91},{"original":2.72,"inverted":2.91},{"original":2.78,"inverted":2.91},{"original":2.84,"inverted":2.91},{"original":2.9,"inverted":2.91},{"original":2.94,"inverted":2.91},{"original":3.0,"inverted":2.91},{"original":3.1,"inverted":2.91},{"original":3.16,"inverted":2.91},{"original":3.22,"inverted":2.91},{"original":3.26,"inverted":2.91},
{"original":2.6,"inverted":2.895},{"original":2.68,"inverted":2.895},{"original":2.76,"inverted":2.895},{"original":2.83,"inverted":2.895},{"original":2.88,"inverted":2.895},{"original":2.97,"inverted":2.895},{"original":3.04,"inverted":2.895},{"original":3.28,"inverted":2.895},{"original":3.32,"inverted":2.895},
{"original":2.62,"inverted":2.875},{"original":2.7,"inverted":2.875},{"original":2.76,"inverted":2.875},{"original":2.82,"inverted":2.875},{"original":2.86,"inverted":2.875},{"original":2.92,"inverted":2.875},{"original":2.98,"inverted":2.875},{"original":3.02,"inverted":2.875},{"original":3.08,"inverted":2.875},{"original":3.14,"inverted":2.875},{"original":3.2,"inverted":2.875},{"original":3.26,"inverted":2.875},{"original":3.3,"inverted":2.875},{"original":3.34,"inverted":2.875},{"original":3.38,"inverted":2.875},{"original":3.41,"inverted":2.875},
{"original":2.64,"inverted":2.86},{"original":2.68,"inverted":2.86},{"original":2.9,"inverted":2.86},{"original":2.96,"inverted":2.86},{"original":3.04,"inverted":2.86},{"original":3.12,"inverted":2.86},{"original":3.18,"inverted":2.86},{"original":3.22,"inverted":2.86},{"original":3.28,"inverted":2.86},{"original":3.36,"inverted":2.86},
{"original":2.63,"inverted":2.845},{"original":2.88,"inverted":2.845},{"original":2.93,"inverted":2.845},{"original":2.99,"inverted":2.845},{"original":3.05,"inverted":2.845},{"original":3.1,"inverted":2.845},{"original":3.16,"inverted":2.845},{"original":3.22,"inverted":2.845},{"original":3.26,"inverted":2.845},{"original":3.3,"inverted":2.845},
{"original":2.65,"inverted":2.83},{"original":2.9,"inverted":2.83},{"original":2.95,"inverted":2.83},{"original":3.0,"inverted":2.83},{"original":3.07,"inverted":2.83},{"original":3.13,"inverted":2.83},{"original":3.2,"inverted":2.83},{"original":3.25,"inverted":2.83},
{"original":2.64,"inverted":2.815},{"original":2.66,"inverted":2.815},{"original":2.88,"inverted":2.815},{"original":2.92,"inverted":2.815},{"original":2.97,"inverted":2.815},{"original":3.02,"inverted":2.815},{"original":3.06,"inverted":2.815},{"original":3.12,"inverted":2.815},{"original":3.18,"inverted":2.815},
{"original":2.62,"inverted":2.8},{"original":2.66,"inverted":2.8},{"original":2.65,"inverted":2.785},{"original":2.68,"inverted":2.785},
{"original":2.94,"inverted":3.2},{"original":2.98,"inverted":3.2},{"original":3.02,"inverted":3.2},{"original":3.06,"inverted":3.2},{"original":3.1,"inverted":3.2},{"original":3.16,"inverted":3.2},{"original":3.3,"inverted":3.2},{"original":3.34,"inverted":3.2},{"original":3.4,"inverted":3.2},{"original":3.44,"inverted":3.2},
{"original":2.9,"inverted":3.18},{"original":2.96,"inverted":3.18},{"original":3.0,"inverted":3.18},{"original":3.04,"inverted":3.18},{"original":3.08,"inverted":3.18},{"original":3.12,"inverted":3.18},{"original":3.16,"inverted":3.18},{"original":3.25,"inverted":3.18},{"original":3.29,"inverted":3.18},{"original":3.33,"inverted":3.18},{"original":3.37,"inverted":3.18},{"original":3.42,"inverted":3.18},{"original":3.45,"inverted":3.18},
{"original":2.88,"inverted":3.16},{"original":2.92,"inverted":3.16},{"original":2.97,"inverted":3.16},{"original":3.01,"inverted":3.16},{"original":3.05,"inverted":3.16},{"original":3.09,"inverted":3.16},{"original":3.13,"inverted":3.16},{"original":3.18,"inverted":3.16},{"original":3.22,"inverted":3.16},{"original":3.27,"inverted":3.16},{"original":3.31,"inverted":3.16},{"original":3.35,"inverted":3.16},{"original":3.39,"inverted":3.16},
{"original":2.87,"inverted":3.14},{"original":2.91,"inverted":3.14},{"original":2.95,"inverted":3.14},{"original":3.0,"inverted":3.14},{"original":3.04,"inverted":3.14},{"original":3.08,"inverted":3.14},{"original":3.12,"inverted":3.14},{"original":3.16,"inverted":3.14},{"original":3.2,"inverted":3.14},{"original":3.24,"inverted":3.14},{"original":3.28,"inverted":3.14},{"original":3.32,"inverted":3.14},{"original":3.37,"inverted":3.14},
{"original":2.78,"inverted":3.12},{"original":2.83,"inverted":3.12},{"original":2.87,"inverted":3.12},{"original":2.91,"inverted":3.12},{"original":2.95,"inverted":3.12},{"original":2.99,"inverted":3.12},{"original":3.03,"inverted":3.12},{"original":3.07,"inverted":3.12},{"original":3.11,"inverted":3.12},{"original":3.15,"inverted":3.12},{"original":3.21,"inverted":3.12},{"original":3.26,"inverted":3.12},{"original":3.3,"inverted":3.12},{"original":3.34,"inverted":3.12},
{"original":2.79,"inverted":3.1},{"original":2.84,"inverted":3.1},{"original":2.88,"inverted":3.1},{"original":2.93,"inverted":3.1},{"original":2.97,"inverted":3.1},{"original":3.01,"inverted":3.1},{"original":3.05,"inverted":3.1},{"original":3.09,"inverted":3.1},{"original":3.13,"inverted":3.1},{"original":3.22,"inverted":3.1},{"original":3.28,"inverted":3.1},{"original":3.32,"inverted":3.1},
{"original":2.79,"inverted":3.08},{"original":2.83,"inverted":3.08},{"original":2.87,"inverted":3.08},{"original":2.91,"inverted":3.08},{"original":2.96,"inverted":3.08},{"original":3.0,"inverted":3.08},{"original":3.04,"inverted":3.08},{"original":3.08,"inverted":3.08},{"original":3.12,"inverted":3.08},{"original":3.16,"inverted":3.08},{"original":3.2,"inverted":3.08},{"original":3.24,"inverted":3.08},{"original":3.28,"inverted":3.08},{"original":3.32,"inverted":3.08},
{"original":2.8,"inverted":3.06},{"original":2.85,"inverted":3.06},{"original":2.89,"inverted":3.06},{"original":2.94,"inverted":3.06},{"original":2.98,"inverted":3.06},{"original":3.02,"inverted":3.06},{"original":3.06,"inverted":3.06},{"original":3.12,"inverted":3.06},{"original":3.18,"inverted":3.06},{"original":3.22,"inverted":3.06},{"original":3.26,"inverted":3.06},{"original":3.3,"inverted":3.06},
{"original":2.81,"inverted":3.04},{"original":2.86,"inverted":3.04},{"original":2.91,"inverted":3.04},{"original":2.96,"inverted":3.04},{"original":3.0,"inverted":3.04},{"original":3.05,"inverted":3.04},{"original":3.1,"inverted":3.04},{"original":3.14,"inverted":3.04},{"original":3.18,"inverted":3.04},{"original":3.22,"inverted":3.04},{"original":3.26,"inverted":3.04},{"original":3.3,"inverted":3.04},
{"original":2.86,"inverted":3.02},{"original":2.9,"inverted":3.02},{"original":2.95,"inverted":3.02},{"original":3.0,"inverted":3.02},{"original":3.04,"inverted":3.02},{"original":3.1,"inverted":3.02},{"original":3.14,"inverted":3.02},{"original":3.2,"inverted":3.02},{"original":3.24,"inverted":3.02},{"original":3.28,"inverted":3.02},
{"original":2.65,"inverted":2.99},{"original":2.7,"inverted":2.99},{"original":2.76,"inverted":2.99},{"original":2.82,"inverted":2.99},{"original":2.87,"inverted":2.99},{"original":2.97,"inverted":2.99},{"original":3.03,"inverted":2.99},{"original":3.08,"inverted":2.99},{"original":3.14,"inverted":2.99},{"original":3.18,"inverted":2.99},{"original":3.22,"inverted":2.99},{"original":3.26,"inverted":2.99},{"original":3.3,"inverted":2.99},
{"original":2.6,"inverted":2.96},{"original":2.66,"inverted":2.96},{"original":2.72,"inverted":2.96},{"original":2.8,"inverted":2.96},{"original":2.87,"inverted":2.96},{"original":2.94,"inverted":2.96},{"original":3.0,"inverted":2.96},{"original":3.06,"inverted":2.96},{"original":3.12,"inverted":2.96},{"original":3.18,"inverted":2.96},{"original":3.23,"inverted":2.96},{"original":3.28,"inverted":2.96},
{"original":2.57,"inverted":2.93},{"original":2.61,"inverted":2.93},{"original":2.67,"inverted":2.93},{"original":2.71,"inverted":2.93},{"original":2.78,"inverted":2.93},{"original":2.85,"inverted":2.93},{"original":2.92,"inverted":2.93},{"original":2.99,"inverted":2.93},{"original":3.04,"inverted":2.93},{"original":3.2,"inverted":2.93},{"original":3.26,"inverted":2.93},{"original":3.3,"inverted":2.93},
{"original":2.56,"inverted":2.9},{"original":2.62,"inverted":2.9},{"original":2.69,"inverted":2.9},{"original":2.75,"inverted":2.9},{"original":2.81,"inverted":2.9},{"original":2.87,"inverted":2.9},{"original":2.92,"inverted":2.9},{"original":2.98,"inverted":2.9},{"original":3.02,"inverted":2.9},{"original":3.24,"inverted":2.9},{"original":3.3,"inverted":2.9},
{"original":2.66,"inverted":2.865},{"original":2.73,"inverted":2.865},{"original":2.94,"inverted":2.865},{"original":3.0,"inverted":2.865},{"original":3.06,"inverted":2.865},{"original":3.1,"inverted":2.865},{"original":3.16,"inverted":2.865},{"original":3.24,"inverted":2.865},{"original":3.32,"inverted":2.865},{"original":3.39,"inverted":2.865},
{"original":2.9,"inverted":2.84},{"original":2.96,"inverted":2.84},{"original":3.02,"inverted":2.84},{"original":3.08,"inverted":2.84},{"original":3.13,"inverted":2.84},{"original":3.19,"inverted":2.84},{"original":3.24,"inverted":2.84},{"original":3.28,"inverted":2.84},
{"original":2.86,"inverted":2.82},{"original":2.9,"inverted":2.82},{"original":2.94,"inverted":2.82},{"original":2.99,"inverted":2.82},{"original":3.04,"inverted":2.82},{"original":3.09,"inverted":2.82},{"original":3.15,"inverted":2.82},{"original":3.21,"inverted":2.82},
{"original":2.95,"inverted":3.205},{"original":3.0,"inverted":3.205},{"original":3.04,"inverted":3.205},{"original":3.08,"inverted":3.205},{"original":3.14,"inverted":3.205},{"original":3.3,"inverted":3.205},{"original":3.35,"inverted":3.205},{"original":3.38,"inverted":3.205},
{"original":2.92,"inverted":3.185},{"original":2.97,"inverted":3.185},{"original":3.01,"inverted":3.185},{"original":3.05,"inverted":3.185},{"original":3.1,"inverted":3.185},{"original":3.14,"inverted":3.185},{"original":3.2,"inverted":3.185},{"original":3.28,"inverted":3.185},{"original":3.32,"inverted":3.185},{"original":3.36,"inverted":3.185},{"original":3.4,"inverted":3.185},{"original":3.46,"inverted":3.185},
{"original":2.9,"inverted":3.165},{"original":2.95,"inverted":3.165},{"original":2.99,"inverted":3.165},{"original":3.03,"inverted":3.165},{"original":3.07,"inverted":3.165},{"original":3.11,"inverted":3.165},{"original":3.15,"inverted":3.165},{"original":3.2,"inverted":3.165},{"original":3.25,"inverted":3.165},{"original":3.29,"inverted":3.165},{"original":3.33,"inverted":3.165},{"original":3.37,"inverted":3.165},{"original":3.43,"inverted":3.165},
{"original":2.89,"inverted":3.145},{"original":2.93,"inverted":3.145},{"original":2.97,"inverted":3.145},{"original":3.02,"inverted":3.145},{"original":3.06,"inverted":3.145},{"original":3.1,"inverted":3.145},{"original":3.14,"inverted":3.145},{"original":3.18,"inverted":3.145},{"original":3.22,"inverted":3.145},{"original":3.26,"inverted":3.145},{"original":3.3,"inverted":3.145},{"original":3.35,"inverted":3.145},{"original":3.39,"inverted":3.145},
{"original":2.81,"inverted":3.125},{"original":2.85,"inverted":3.125},{"original":2.89,"inverted":3.125},{"original":2.93,"inverted":3.125},{"original":2.97,"inverted":3.125},{"original":3.01,"inverted":3.125},{"original":3.05,"inverted":3.125},{"original":3.09,"inverted":3.125},{"original":3.13,"inverted":3.125},{"original":3.19,"inverted":3.125},{"original":3.24,"inverted":3.125},{"original":3.28,"inverted":3.125},{"original":3.32,"inverted":3.125},{"original":3.36,"inverted":3.125},
{"original":2.77,"inverted":3.105},{"original":2.82,"inverted":3.105},{"original":2.86,"inverted":3.105},{"original":2.9,"inverted":3.105},{"original":2.95,"inverted":3.105},{"original":2.99,"inverted":3.105},{"original":3.03,"inverted":3.105},{"original":3.07,"inverted":3.105},{"original":3.11,"inverted":3.105},{"original":3.15,"inverted":3.105},{"original":3.2,"inverted":3.105},{"original":3.26,"inverted":3.105},{"original":3.3,"inverted":3.105},{"original":3.34,"inverted":3.105},
{"original":2.81,"inverted":3.085},{"original":2.85,"inverted":3.085},{"original":2.89,"inverted":3.085},{"original":2.93,"inverted":3.085},{"original":2.98,"inverted":3.085},{"original":3.02,"inverted":3.085},{"original":3.06,"inverted":3.085},{"original":3.1,"inverted":3.085},{"original":3.14,"inverted":3.085},{"original":3.18,"inverted":3.085},{"original":3.22,"inverted":3.085},{"original":3.26,"inverted":3.085},{"original":3.3,"inverted":3.085},
{"original":2.78,"inverted":3.065},{"original":2.82,"inverted":3.065},{"original":2.87,"inverted":3.065},{"original":2.91,"inverted":3.065},{"original":2.96,"inverted":3.065},{"original":3.0,"inverted":3.065},{"original":3.04,"inverted":3.065},{"original":3.08,"inverted":3.065},{"original":3.15,"inverted":3.065},{"original":3.2,"inverted":3.065},{"original":3.24,"inverted":3.065},{"original":3.28,"inverted":3.065},{"original":3.32,"inverted":3.065},
{"original":2.79,"inverted":3.045},{"original":2.84,"inverted":3.045},{"original":2.88,"inverted":3.045},{"original":2.93,"inverted":3.045},{"original":2.98,"inverted":3.045},{"original":3.02,"inverted":3.045},{"original":3.07,"inverted":3.045},{"original":3.12,"inverted":3.045},{"original":3.16,"inverted":3.045},{"original":3.2,"inverted":3.045},{"original":3.24,"inverted":3.045},{"original":3.28,"inverted":3.045},
{"original":2.82,"inverted":3.025},{"original":2.87,"inverted":3.025},{"original":2.92,"inverted":3.025},{"original":2.97,"inverted":3.025},{"original":3.02,"inverted":3.025},{"original":3.06,"inverted":3.025},{"original":3.12,"inverted":3.025},{"original":3.18,"inverted":3.025},{"original":3.22,"inverted":3.025},{"original":3.26,"inverted":3.025},{"original":3.3,"inverted":3.025},
{"original":2.59,"inverted":2.975},{"original":2.65,"inverted":2.975},{"original":2.71,"inverted":2.975},{"original":2.77,"inverted":2.975},{"original":2.84,"inverted":2.975},{"original":2.9,"inverted":2.975},{"original":2.96,"inverted":2.975},{"original":3.02,"inverted":2.975},{"original":3.1,"inverted":2.975},{"original":3.16,"inverted":2.975},{"original":3.21,"inverted":2.975},{"original":3.25,"inverted":2.975},
{"original":2.56,"inverted":2.945},{"original":2.63,"inverted":2.945},{"original":2.69,"inverted":2.945},{"original":2.74,"inverted":2.945},{"original":2.9,"inverted":2.945},{"original":2.97,"inverted":2.945},{"original":3.02,"inverted":2.945},{"original":3.1,"inverted":2.945},{"original":3.15,"inverted":2.945},{"original":3.2,"inverted":2.945},{"original":3.24,"inverted":2.945},{"original":3.28,"inverted":2.945},
{"original":2.6,"inverted":2.915},{"original":2.67,"inverted":2.915},{"original":2.74,"inverted":2.915},{"original":2.8,"inverted":2.915},{"original":2.86,"inverted":2.915},{"original":2.96,"inverted":2.915},{"original":3.2,"inverted":2.915},{"original":3.25,"inverted":2.915},{"original":3.3,"inverted":2.915},
{"original":2.64,"inverted":2.885},{"original":2.72,"inverted":2.885},{"original":2.79,"inverted":2.885},{"original":2.85,"inverted":2.885},{"original":2.9,"inverted":2.885},{"original":2.95,"inverted":2.885},{"original":3.26,"inverted":2.885},{"original":3.3,"inverted":2.885},{"original":3.34,"inverted":2.885},
{"original":3.42,"inverted":3.078},{"original":3.4,"inverted":3.066},{"original":3.38,"inverted":3.05},{"original":3.36,"inverted":3.03},{"original":3.35,"inverted":3.01},
{"original":3.294,"inverted":3.329},{"original":3.355,"inverted":3.329},{"original":3.407,"inverted":3.329},{"original":3.473,"inverted":3.329},{"original":3.279,"inverted":3.288},{"original":3.69,"inverted":3.327},{"original":3.6,"inverted":3.266},{"original":3.63,"inverted":3.266},{"original":3.8,"inverted":3.256},{"original":3.9,"inverted":3.266},{"original":4.01,"inverted":3.266},
{"original":3.51,"inverted":3.232},{"original":3.57,"inverted":3.232},{"original":3.64,"inverted":3.232},{"original":3.7,"inverted":3.232},
{"original":3.6,"inverted":3.2},{"original":3.66,"inverted":3.195},{"original":3.73,"inverted":3.195},{"original":3.79,"inverted":3.207},{"original":3.87,"inverted":3.2},{"original":3.93,"inverted":3.212},{"original":3.95,"inverted":3.195},{"original":3.99,"inverted":3.215},{"original":4.02,"inverted":3.237},
{"original":3.6,"inverted":3.17},{"original":3.69,"inverted":3.17},{"original":3.77,"inverted":3.17},{"original":3.83,"inverted":3.17},{"original":3.88,"inverted":3.17},
{"original":3.56,"inverted":3.112},{"original":3.62,"inverted":3.112},{"original":3.68,"inverted":3.112},{"original":3.7,"inverted":3.112},{"original":3.73,"inverted":3.112},{"original":3.755,"inverted":3.115},
{"original":3.74,"inverted":3.151},{"original":3.74,"inverted":3.134},{"original":3.74,"inverted":3.122},
{"original":3.43,"inverted":3.166},{"original":3.48,"inverted":3.163},{"original":3.52,"inverted":3.163},{"original":3.42,"inverted":3.195},{"original":3.49,"inverted":3.195},{"original":3.46,"inverted":3.195},{"original":3.46,"inverted":3.117},
{"original":4.134,"inverted":3.507},{"original":4.257,"inverted":3.507},{"original":4.385,"inverted":3.507},{"original":4.016,"inverted":3.488},{"original":4.498,"inverted":3.488},
{"original":4.36,"inverted":3.468},{"original":4.38,"inverted":3.468},{"original":4.4,"inverted":3.468},{"original":4.42,"inverted":3.468},{"original":4.44,"inverted":3.468},{"original":4.46,"inverted":3.468},{"original":4.48,"inverted":3.468},{"original":4.5,"inverted":3.468},
{"original":4.59,"inverted":3.48},{"original":4.67,"inverted":3.48},{"original":4.73,"inverted":3.463},
{"original":3.663,"inverted":3.446},{"original":3.77,"inverted":3.446},{"original":3.9,"inverted":3.446},{"original":4.17,"inverted":3.446},{"original":4.27,"inverted":3.446},{"original":4.33,"inverted":3.446},{"original":4.38,"inverted":3.446},
{"original":4.36,"inverted":3.427},{"original":4.37,"inverted":3.43},{"original":4.07,"inverted":3.422},{"original":4.23,"inverted":3.388},
{"original":4.69,"inverted":3.415},{"original":4.7,"inverted":3.393},{"original":4.74,"inverted":3.39},{"original":4.78,"inverted":3.385},{"original":4.65,"inverted":3.39},
{"original":3.765,"inverted":3.376},{"original":3.85,"inverted":3.376},{"original":3.96,"inverted":3.376},{"original":3.97,"inverted":3.376},
{"original":4.46,"inverted":3.376},{"original":4.53,"inverted":3.373},{"original":4.56,"inverted":3.358},
{"original":4.226,"inverted":3.341},{"original":4.25,"inverted":3.341},{"original":4.28,"inverted":3.341},{"original":4.3,"inverted":3.341},{"original":4.33,"inverted":3.341},{"original":4.34,"inverted":3.341},{"original":4.33,"inverted":3.366},
{"original":4.64,"inverted":3.34},{"original":4.68,"inverted":3.337},{"original":4.31,"inverted":3.317},{"original":4.34,"inverted":3.32},{"original":3.68,"inverted":3.325},{"original":3.566,"inverted":3.434},
{"original":4.165,"inverted":3.293},{"original":4.24,"inverted":3.293},{"original":4.54,"inverted":3.293},{"original":4.26,"inverted":3.278},{"original":4.41,"inverted":3.278},
{"original":4.155,"inverted":3.268},{"original":4.2,"inverted":3.263},{"original":3.64,"inverted":3.268},
{"original":3.64,"inverted":3.237},{"original":3.71,"inverted":3.237},{"original":3.97,"inverted":3.237},{"original":4.08,"inverted":3.237},{"original":4.12,"inverted":3.237},{"original":4.165,"inverted":3.237},{"original":4.226,"inverted":3.237},{"original":4.28,"inverted":3.237},{"original":4.37,"inverted":3.237},{"original":4.41,"inverted":3.237},
{"original":4.48,"inverted":3.224},{"original":4.51,"inverted":3.224},{"original":4.56,"inverted":3.224},{"original":4.63,"inverted":3.224},{"original":4.65,"inverted":3.224},{"original":4.67,"inverted":3.224},
{"original":3.95,"inverted":3.215},{"original":3.95,"inverted":3.2},{"original":3.95,"inverted":3.19},{"original":3.79,"inverted":3.212},{"original":3.88,"inverted":3.202},{"original":3.82,"inverted":3.19},{"original":3.73,"inverted":3.195},
{"original":4.06,"inverted":3.178},{"original":4.15,"inverted":3.178},{"original":4.19,"inverted":3.178},{"original":4.31,"inverted":3.178},{"original":4.32,"inverted":3.178},{"original":4.43,"inverted":3.178},
{"original":4.52,"inverted":3.183},{"original":4.55,"inverted":3.183},{"original":4.58,"inverted":3.183},{"original":4.61,"inverted":3.183},{"original":4.64,"inverted":3.183},{"original":4.67,"inverted":3.183},{"original":4.69,"inverted":3.183},{"original":4.68,"inverted":3.195},
{"original":3.64,"inverted":3.2},{"original":3.69,"inverted":3.176},{"original":3.765,"inverted":3.176},{"original":3.82,"inverted":3.176},{"original":3.75,"inverted":3.154},{"original":3.755,"inverted":3.139},{"original":3.63,"inverted":3.115},{"original":3.66,"inverted":3.115}
],
"nearfit": [{"original":2.5,"inverted":2.875},{"original":5.0,"inverted":3.56}],
"farfit": [{"original":2.5,"inverted":2.902},{"original":5.0,"inverted":3.471}]
},
"hconcat": [
{
"width": 470, "height": 410,
"title": {"text": "×10⁴", "anchor": "start", "frame": "group"},
"layer": [
{
"data": {"name": "near"},
"mark": {"type": "point", "filled": false, "strokeWidth": 1.8, "opacity": 1},
"encoding": {
"x": {"field": "original", "type": "quantitative", "scale": {"domain": [2.5, 5], "nice": false, "zero": false},
 "axis": {"title": "Original EI (ft/s*g/cc)", "values": [2.5,2.625,2.75,2.875,3,3.125,3.25,3.375,3.5,3.625,3.75,3.875,4,4.125,4.25,4.375,4.5,4.625,4.75,4.875,5],
  "labelExpr": "abs(datum.value*2-round(datum.value*2))<0.001 ? format(datum.value,'~g') : ''",
  "gridDash": {"condition": {"test": "abs(datum.value*2-round(datum.value*2))<0.001", "value": []}, "value": [1.5, 4]},
  "gridColor": {"condition": {"test": "abs(datum.value*2-round(datum.value*2))<0.001", "value": "#dcd6d0"}, "value": "#a39c95"},
  "tickOpacity": {"condition": {"test": "abs(datum.value*2-round(datum.value*2))<0.001", "value": 1}, "value": 0}}},
"y": {"field": "inverted", "type": "quantitative", "scale": {"domain": [2.6, 3.8], "nice": false, "zero": false},
 "axis": {"title": "Inverted EI (ft/s*g/cc)", "values": [2.6,2.65,2.7,2.75,2.8,2.85,2.9,2.95,3,3.05,3.1,3.15,3.2,3.25,3.3,3.35,3.4,3.45,3.5,3.55,3.6,3.65,3.7,3.75,3.8],
  "labelExpr": "abs(datum.value*5-round(datum.value*5))<0.001 ? format(datum.value,'~g') : ''",
  "gridDash": {"condition": {"test": "abs(datum.value*5-round(datum.value*5))<0.001", "value": []}, "value": [1.5, 4]},
  "gridColor": {"condition": {"test": "abs(datum.value*5-round(datum.value*5))<0.001", "value": "#dcd6d0"}, "value": "#a39c95"},
  "tickOpacity": {"condition": {"test": "abs(datum.value*5-round(datum.value*5))<0.001", "value": 1}, "value": 0}}},
"color": {"datum": "EI (near stack)", "type": "nominal", "scale": {"domain": ["EI (near stack)", "Best fit line"], "range": ["#e3342b", "#151515"]},
 "legend": {"title": null, "encode": {"symbols": {"update": {"strokeWidth": {"signal": "datum.value === 'Best fit line' ? 2.6 : 1.6"}}}}}},
"shape": {"datum": "EI (near stack)", "type": "nominal", "scale": {"domain": ["EI (near stack)", "Best fit line"], "range": ["circle", "stroke"]}, "legend": {"title": null}},
"size": {"datum": "EI (near stack)", "type": "nominal", "scale": {"domain": ["EI (near stack)", "Best fit line"], "range": [80, 3844]}, "legend": {"title": null}}
}
},
{
"data": {"name": "nearfit"},
"mark": {"type": "line", "color": "#151515", "strokeWidth": 2.6},
"encoding": {
"x": {"field": "original", "type": "quantitative", "scale": {"domain": [2.5, 5], "nice": false, "zero": false}},
"y": {"field": "inverted", "type": "quantitative", "scale": {"domain": [2.6, 3.8], "nice": false, "zero": false}}
}
},
{
"data": {"values": [{}]},
"mark": {"type": "text", "text": "×10⁴", "align": "right", "baseline": "alphabetic", "dy": 63, "dx": 4, "fontSize": 23, "font": "Liberation Serif", "color": "#262626"},
"encoding": {
"x": {"datum": 5, "type": "quantitative"},
"y": {"datum": 2.6, "type": "quantitative"}
}
}
]
},
{
"width": 488, "height": 410,
"title": {"text": "×10⁴", "anchor": "start", "frame": "group"},
"layer": [
{
"data": {"name": "far"},
"mark": {"type": "point", "filled": false, "strokeWidth": 1.8, "opacity": 1},
"encoding": {
"x": {"field": "original", "type": "quantitative", "scale": {"domain": [2.5, 5], "nice": false, "zero": false},
 "axis": {"title": "Original EI (ft/s*g/cc)", "values": [2.5,2.625,2.75,2.875,3,3.125,3.25,3.375,3.5,3.625,3.75,3.875,4,4.125,4.25,4.375,4.5,4.625,4.75,4.875,5],
  "labelExpr": "abs(datum.value*2-round(datum.value*2))<0.001 ? format(datum.value,'~g') : ''",
  "gridDash": {"condition": {"test": "abs(datum.value*2-round(datum.value*2))<0.001", "value": []}, "value": [1.5, 4]},
  "gridColor": {"condition": {"test": "abs(datum.value*2-round(datum.value*2))<0.001", "value": "#dcd6d0"}, "value": "#a39c95"},
  "tickOpacity": {"condition": {"test": "abs(datum.value*2-round(datum.value*2))<0.001", "value": 1}, "value": 0}}},
"y": {"field": "inverted", "type": "quantitative", "scale": {"domain": [2.6, 3.6], "nice": false, "zero": false},
 "axis": {"title": "Inverted EI (ft/s*g/cc)", "values": [2.6,2.65,2.7,2.75,2.8,2.85,2.9,2.95,3,3.05,3.1,3.15,3.2,3.25,3.3,3.35,3.4,3.45,3.5,3.55,3.6],
  "labelExpr": "abs(datum.value*5-round(datum.value*5))<0.001 ? format(datum.value,'~g') : ''",
  "gridDash": {"condition": {"test": "abs(datum.value*5-round(datum.value*5))<0.001", "value": []}, "value": [1.5, 4]},
  "gridColor": {"condition": {"test": "abs(datum.value*5-round(datum.value*5))<0.001", "value": "#dcd6d0"}, "value": "#a39c95"},
  "tickOpacity": {"condition": {"test": "abs(datum.value*5-round(datum.value*5))<0.001", "value": 1}, "value": 0}}},
"color": {"datum": "EI (far stack)", "type": "nominal", "scale": {"domain": ["EI (far stack)", "Best fit line"], "range": ["#3d3d99", "#151515"]},
 "legend": {"title": null, "encode": {"symbols": {"update": {"strokeWidth": {"signal": "datum.value === 'Best fit line' ? 2.6 : 1.6"}}}}}},
"shape": {"datum": "EI (far stack)", "type": "nominal", "scale": {"domain": ["EI (far stack)", "Best fit line"], "range": ["circle", "stroke"]}, "legend": {"title": null}},
"size": {"datum": "EI (far stack)", "type": "nominal", "scale": {"domain": ["EI (far stack)", "Best fit line"], "range": [80, 3844]}, "legend": {"title": null}}
}
},
{
"data": {"name": "farfit"},
"mark": {"type": "line", "color": "#151515", "strokeWidth": 2.6},
"encoding": {
"x": {"field": "original", "type": "quantitative", "scale": {"domain": [2.5, 5], "nice": false, "zero": false}},
"y": {"field": "inverted", "type": "quantitative", "scale": {"domain": [2.6, 3.6], "nice": false, "zero": false}}
}
},
{
"data": {"values": [{}]},
"mark": {"type": "text", "text": "×10⁴", "align": "right", "baseline": "alphabetic", "dy": 63, "dx": 4, "fontSize": 23, "font": "Liberation Serif", "color": "#262626"},
"encoding": {
"x": {"datum": 5, "type": "quantitative"},
"y": {"datum": 2.6, "type": "quantitative"}
}
}
]
}
],
"resolve": {"scale": {"x": "independent", "y": "independent", "color": "independent", "shape": "independent", "size": "independent"}, "legend": {"color": "independent", "shape": "independent", "size": "independent"}},
"config": {
"view": {"stroke": null},
"font": "Liberation Serif",
"title": {"font": "Liberation Serif", "fontSize": 23, "fontWeight": "normal", "color": "#262626", "offset": -11},
"axis": {"domainColor": "#262626", "domainWidth": 1.3, "tickColor": "#262626", "tickWidth": 1.3, "tickSize": -5,
 "labelFont": "Liberation Serif", "labelFontSize": 22, "labelColor": "#262626", "labelFlush": false, "labelOverlap": false,
 "titleFont": "Liberation Serif", "titleFontSize": 23, "titleFontWeight": "normal", "titleColor": "#262626", "gridWidth": 1},
"axisX": {"labelPadding": 20, "titlePadding": 4},
"axisY": {"labelPadding": 17, "titlePadding": 7},
"legend": {"orient": "bottom-right", "offset": 22, "padding": 9, "fillColor": "white", "labelFont": "Liberation Serif", "labelFontSize": 20, "labelColor": "#1a1a1a", "labelOffset": 5, "rowPadding": 1, "clipHeight": 24}
}
}
